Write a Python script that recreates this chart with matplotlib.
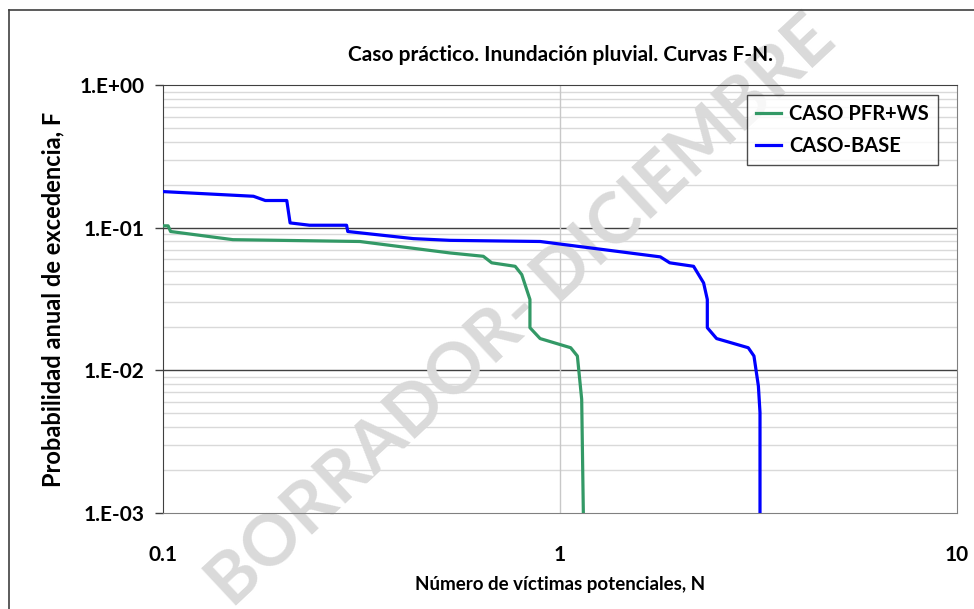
import numpy as np
import matplotlib.pyplot as plt
from matplotlib.lines import Line2D

plt.rcParams['font.family'] = ['Lato', 'DejaVu Sans']

# CASO-BASE curve (N, F)
base_n = [0.100, 0.169, 0.181, 0.205, 0.209, 0.234, 0.290, 0.292, 0.427, 0.528,
          0.891, 1.79, 1.89, 2.17, 2.30, 2.35, 2.35, 2.48, 2.98, 3.08, 3.16, 3.19, 3.19]
base_f = [0.179, 0.166, 0.155, 0.155, 0.108, 0.104, 0.104, 0.094, 0.0838, 0.0815,
          0.080, 0.0624, 0.0567, 0.0536, 0.041, 0.0314, 0.0199, 0.0167, 0.0144, 0.0126,
          0.00777, 0.00506, 0.001]

# CASO PFR+WS curve (N, F)
pfr_n = [0.100, 0.103, 0.1045, 0.150, 0.313, 0.528, 0.641, 0.673, 0.771, 0.801,
         0.840, 0.840, 0.891, 1.064, 1.106, 1.134, 1.145]
pfr_f = [0.103, 0.103, 0.094, 0.0824, 0.080, 0.0665, 0.063, 0.0567, 0.0536, 0.0469,
         0.0314, 0.0199, 0.0167, 0.0144, 0.0126, 0.00627, 0.001]

y_ticks = [1e-3, 1e-2, 1e-1, 1]
y_labels = ['1.E-03', '1.E-02', '1.E-01', '1.E+00']
x_ticks = [0.1, 1, 10]
x_labels = ['0.1', '1', '10']

W, H = 974, 609
fig = plt.figure(figsize=(W / 100, H / 100), dpi=100)
ax = fig.add_axes([163 / W, (H - 513) / H, (957 - 163) / W, (513 - 85) / H])

ax.set_xscale('log')
ax.set_yscale('log')
ax.set_xlim(0.1, 10)
ax.set_ylim(1e-3, 1)

# gridlines
for dec in [1e-3, 1e-2, 1e-1]:
    for m in range(2, 10):
        ax.axhline(dec * m, color='#d9d9d9', lw=1.0, zorder=0.5)
for v in [1e-2, 1e-1]:
    ax.axhline(v, color='#404040', lw=1.0, zorder=0.6)
ax.axvline(1, color='#c8c8c8', lw=1.0, zorder=0.6)

# watermark
ax.text(522 / W, 1 - 312 / H, 'BORRADOR- DICIEMBRE', transform=fig.transFigure,
        rotation=43, ha='center', va='center', fontsize=51, color='#dadada',
        fontweight='bold', zorder=1, clip_on=False)

ax.plot(pfr_n, pfr_f, color='#339966', lw=2.3, label='CASO PFR+WS', zorder=3,
        solid_joinstyle='round')
ax.plot(base_n, base_f, color='#0000ff', lw=2.3, label='CASO-BASE', zorder=3,
        solid_joinstyle='round')

ax.set_yticks(y_ticks)
ax.set_yticklabels(y_labels)
ax.set_xticks(x_ticks)
ax.set_xticklabels(x_labels)
ax.minorticks_off()
ax.tick_params(axis='y', length=6, width=1, color='#404040', pad=7, labelsize=15)
ax.tick_params(axis='x', length=0, pad=23, labelsize=15)
for lab in ax.get_xticklabels() + ax.get_yticklabels():
    lab.set_fontweight('bold')

for side in ['left', 'top']:
    ax.spines[side].set_color('#404040')
for side in ['right', 'bottom']:
    ax.spines[side].set_color('#808080')

ax.set_xlabel('Número de víctimas potenciales, N', fontsize=13.5, fontweight='bold', labelpad=8)
ax.set_ylabel('Probabilidad anual de excedencia, F', fontsize=17, fontweight='bold', labelpad=11)
ax.set_title('Caso práctico. Inundación pluvial. Curvas F-N.', fontsize=15,
             fontweight='bold', pad=17)

leg = ax.legend(loc='upper right', bbox_to_anchor=(938 / W, 1 - 95 / H),
                bbox_transform=fig.transFigure, fontsize=14.5, frameon=True,
                fancybox=False, borderaxespad=0, handlelength=1.25,
                handletextpad=0.4, borderpad=0.45, labelspacing=0.6)
leg.get_frame().set_edgecolor('#202020')
leg.get_frame().set_linewidth(1.0)
for t in leg.get_texts():
    t.set_fontweight('bold')

# outer chart border (left and top visible)
fig.add_artist(Line2D([9 / W, 9 / W], [0, 1 - 10 / H], transform=fig.transFigure,
                      color='#404040', lw=1.2))
fig.add_artist(Line2D([9 / W, 1], [1 - 10 / H, 1 - 10 / H], transform=fig.transFigure,
                      color='#404040', lw=1.2))

fig.savefig('out.png', dpi=100)
